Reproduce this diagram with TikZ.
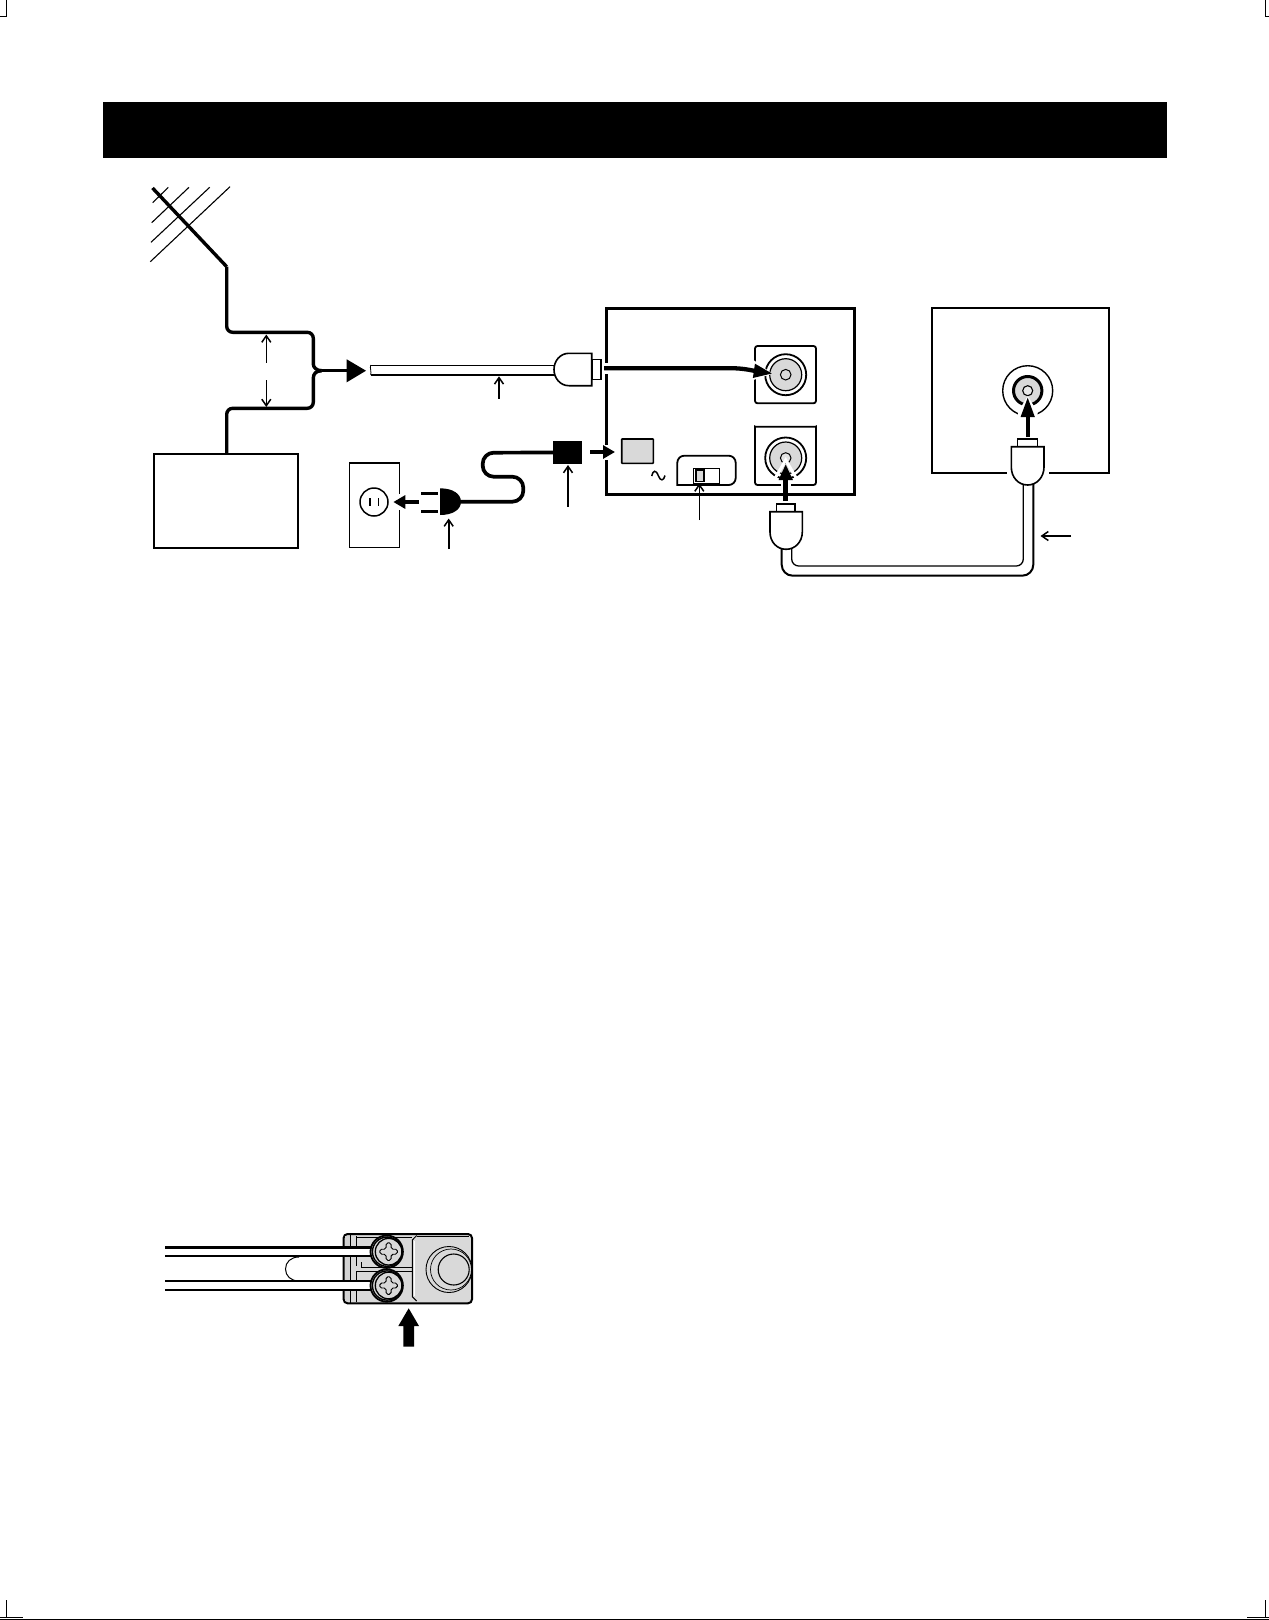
\documentclass[tikz,border=0pt]{standalone}
\usetikzlibrary{arrows.meta}
\definecolor{lightfill}{gray}{0.85}
\tikzset{
  wire/.style={line width=3.4pt,line join=round},
  thinarrow/.style={line width=1.6pt,-{Straight Barb[length=6.5pt,width=9pt,line width=1.5pt]}},
  thickarrow/.style={line width=4pt,-{Triangle[length=12pt,width=13pt]}},
  plugbody/.style={draw,line width=1.6pt,fill=white},
  boxnode/.style={draw,rectangle,anchor=north west,inner sep=0pt,outer sep=0pt,fill=white},
  socketplate/.style={draw,line width=1.8pt,rounded corners=2.5pt},
}
\begin{document}
\begin{tikzpicture}[x=1pt,y=-1pt]
\useasboundingbox (0,0) rectangle (1269,1620);
\fill[white] (0,0) rectangle (1269,1620);
% crop marks
\draw[line width=1pt] (0,16) -- (6.5,16) -- (6.5,0);
\draw[line width=1pt] (1269,16) -- (1265,16) -- (1265,0);
\draw[line width=1pt] (6.5,1600) -- (6.5,1617) -- (0,1617);
\draw[line width=1pt] (6.5,1617) -- (23,1617);
\draw[line width=1pt] (1265,1600) -- (1265,1617) -- (1269,1617);
\draw[line width=1pt] (1265,1617) -- (1247,1617);
\draw[line width=1.2pt] (0,1619.2) -- (1269,1619.2);
% title bar
\node (bar) [rectangle,fill=black,anchor=north west,inner sep=0pt,outer sep=0pt,minimum width=1064pt,minimum height=56pt] at (103,102) {};
% antenna
\draw[line width=1.1pt] (168.3,187.3) -- (152.7,202.7);
\draw[line width=1.1pt] (189,187.3) -- (151.7,222.7);
\draw[line width=1.1pt] (209.7,187.3) -- (151,242.3);
\draw[line width=1.1pt] (230,186.7) -- (150.3,261.7);
\node (tv) [boxnode,line width=1.9pt,minimum width=144.6pt,minimum height=94.6pt] at (153.7,453.7) {};
\coordinate (join) at (321.7,370.7);
\draw[wire] (152.5,188) -- (226.7,266.7);
\draw[wire,rounded corners=6pt] (226.7,266.7) -- (226.7,332.3) -- (313.3,332.3) -- (313.3,358) .. controls (313.3,367) and (316,370.7) .. (join);
\draw[wire,rounded corners=6pt] (226.7,453.7) -- (226.7,408.3) -- (313.3,408.3) -- (313.3,384) .. controls (313.3,374) and (316,370.7) .. (join);
\coordinate (headbase) at (348,370.7);
\draw[wire] (join) -- (headbase);
\fill (346.7,359.3) -- (366,370.7) -- (346.7,382.3) -- cycle;
\coordinate (u1) at (266.3,362.7); \coordinate (u2) at (266.3,334.5);
\coordinate (d1) at (266.3,380); \coordinate (d2) at (266.3,407);
\draw[thinarrow] (u1) -- (u2);
\draw[thinarrow] (d1) -- (d2);
% cable to main plug
\fill[white] (370.7,365.3) rectangle (556,374.7);
\draw[line width=1.2pt] (370.7,365.3) -- (556,365.3);
\draw[line width=2pt] (370.7,374.7) -- (556,374.7);
\draw[line width=.8pt] (370.7,365) .. controls (368.5,367) and (372,368) .. (370.7,370) .. controls (369.5,372) and (372.5,373) .. (370.7,375);
\node (nub) [boxnode,line width=1.6pt,minimum width=8.7pt,minimum height=20pt] at (592,359.3) {};
\draw[plugbody] (591.7,353.3) -- (569,353.3) .. controls (560,353.3) and (554,361) .. (554,369.5) .. controls (554,378) and (560,385.7) .. (569,385.7) -- (591.7,385.7) -- cycle;
\coordinate (c1) at (499,398.7); \coordinate (c2) at (499,376.3);
\draw[thinarrow] (c1) -- (c2);
% main unit
\node (unit) [boxnode,fill=none,line width=3pt,minimum width=248pt,minimum height=186pt] at (606,308.3) {};
\fill[white] (603,363) rectangle (609,374);
\fill[white] (603,445) rectangle (609,460);
% upper socket
\draw[socketplate] (755,346) rectangle (816,403.3);
\coordinate (sa) at (785.7,374.7);
\draw[line width=1.8pt,fill=white] (sa) circle (20.5pt);
\draw[line width=1.2pt,fill=lightfill] (sa) circle (16pt);
\draw[line width=1pt,fill=lightfill] (sa) circle (5.3pt);
\coordinate (p0) at (604,368.3);
\draw[white,line width=7pt,-{Triangle[length=23pt,width=21pt]}] (742,368.8) .. controls (748,369.5) and (755,371) .. (773,373.8);
\draw[line width=4.3pt,-{Triangle[length=19pt,width=13pt]}] (p0) -- (735,368.3) .. controls (745,368.6) and (755,371) .. (772.7,373.6);
% lower socket
\draw[socketplate] (755,485) -- (755,429) .. controls (755,427) and (756,426.7) .. (758,426.7) -- (813,426.7) .. controls (815,426.7) and (816,427) .. (816,429) -- (816,485) -- cycle;
\coordinate (sb) at (785.7,458);
\draw[line width=1.8pt,fill=white] (sb) circle (20.5pt);
\draw[line width=1.2pt,fill=lightfill] (sb) circle (16pt);
\draw[line width=1pt,fill=white!30!lightfill] (sb) circle (5.3pt);
\coordinate (sbfrom) at (785.7,501);
\draw[white,line width=3pt] (773,482) -- (785.7,460) -- (798.5,482) -- cycle;
\fill[white] (781,482) rectangle (790.5,490);
\draw[line width=5pt,-{Triangle[length=16pt,width=13pt]}] (sbfrom) -- (785.7,464);
% ac inlet
\node (inlet) [boxnode,fill=lightfill,line width=1.6pt,minimum width=31.6pt,minimum height=24.3pt,rounded corners=.5pt] at (621.7,439) {};
\draw[line width=1.5pt] (651.7,476) .. controls (653,470) and (656,469.5) .. (658.3,475.7) .. controls (660.5,481.5) and (663.7,481) .. (665,475.5);
\coordinate (pw1) at (590,452); \coordinate (pw2) at (615,452);
\draw[thickarrow] (pw1) -- (pw2);
% switch
\draw[line width=1.8pt,rounded corners=7pt,fill=white] (677.3,485) -- (677.3,455.7) -- (735.7,455.7) -- (735.7,485) [sharp corners] -- cycle;
\node (sw) [boxnode,line width=1pt,minimum width=26pt,minimum height=15pt] at (693.3,468.3) {};
\node (swk) [boxnode,fill=lightfill,line width=1.1pt,minimum width=8pt,minimum height=11.7pt] at (696,470) {};
\coordinate (sw1) at (699.3,520); \coordinate (sw2) at (699.3,483.5);
\draw[thinarrow] (sw1) -- (sw2);
% power cord
\node (adapter) [rectangle,fill=black,anchor=north west,inner sep=0pt,outer sep=0pt,minimum width=28.7pt,minimum height=23pt] at (553.3,441) {};
\draw[wire,line width=3.7pt,rounded corners=11pt] (461,501.7) -- (523.3,501.7) -- (523.3,476.7) -- (482.7,476.7) -- (482.7,452.7) -- (adapter.west);
\fill (440,488.3) .. controls (453,488.3) and (461,494) .. (461,501.7) .. controls (461,509.5) and (453,515) .. (440,515) -- cycle;
\fill (421,491.8) rectangle (437.7,494.8);
\fill (421,509.5) rectangle (437.7,512.5);
\coordinate (ad1) at (568,506.7); \coordinate (ad2) at (568,465);
\draw[thinarrow] (ad1) -- (ad2);
\coordinate (pl1) at (448.7,549); \coordinate (pl2) at (448.7,518.5);
\draw[thinarrow] (pl1) -- (pl2);
% outlet
\node (outlet) [boxnode,line width=1.6pt,minimum width=50pt,minimum height=84.6pt] at (349.3,462.7) {};
\fill[white] (397,494) rectangle (402,510);
\node (hole) [circle,draw,line width=1.5pt,minimum size=28pt,inner sep=0pt] at (374,502) {};
\draw[line width=1.2pt] (370,498.3) -- (370,506);
\draw[line width=1.2pt] (378.3,498.3) -- (378.3,506);
\coordinate (ou1) at (419,502); \coordinate (ou2) at (393.3,502);
\draw[thickarrow] (ou1) -- (ou2);
% coax link
\draw[line width=1.3pt,rounded corners=7pt] (791.7,545) -- (791.7,566) -- (1023.3,566) -- (1023.3,480);
\draw[line width=2pt,rounded corners=11pt] (781.7,545) -- (781.7,575.7) -- (1033.3,575.7) -- (1033.3,480);
\node (nb) [boxnode,line width=1.5pt,minimum width=18.3pt,minimum height=7.7pt] at (776.7,504) {};
\draw[plugbody] (770,511.7) -- (802.3,511.7) -- (802.3,532) .. controls (802.3,542) and (795,549.3) .. (786.1,549.3) .. controls (777,549.3) and (770,542) .. (770,532) -- cycle;
% right unit
\node (tvr) [boxnode,line width=1.9pt,minimum width=177.3pt,minimum height=165pt] at (931.7,308.3) {};
\fill[white] (1006.7,470) rectangle (1048.7,476);
\coordinate (sc) at (1027.7,390.7);
\draw[line width=1.4pt] (sc) circle (25pt);
\draw[line width=3pt,fill=lightfill] (sc) circle (14.2pt);
\draw[line width=1.1pt,fill=white!40!lightfill] (sc) circle (5pt);
\fill[white] (1018,412) -- (1027.7,396) -- (1037.5,412) -- (1037.5,425) -- (1018,425) -- cycle;
\coordinate (r1) at (1027.7,437); \coordinate (r2) at (1027.7,397);
\draw[line width=4pt,-{Triangle[length=20pt,width=13pt]}] (r1) -- (r2);
\node (nr) [boxnode,line width=1.5pt,minimum width=20pt,minimum height=7.7pt] at (1017.7,439) {};
\draw[plugbody] (1011.3,446.7) -- (1044,446.7) -- (1044,467) .. controls (1044,477) and (1037,485) .. (1027.7,485) .. controls (1018,485) and (1011.3,477) .. (1011.3,467) -- cycle;
\coordinate (k1) at (1071,536); \coordinate (k2) at (1040.5,536);
\draw[thinarrow] (k1) -- (k2);
% lower detail: terminal plate
\draw[line width=2pt,rounded corners=4pt,fill=lightfill] (343.6,1234) rectangle (472,1303.3);
\fill[gray!35] (345,1236) rectangle (350,1301);
\draw[line width=1pt] (350,1235) -- (350,1302.5);
\draw[line width=1pt] (356.7,1236) -- (356.7,1266);
\draw[line width=1pt] (356.7,1271) -- (356.7,1302);
\draw[line width=1pt] (356.7,1237) -- (412,1237);
\draw[line width=1pt] (361,1267.7) -- (412,1267.7);
\draw[line width=1pt] (356.7,1271) -- (412,1271);
\draw[line width=1pt] (361,1262) -- (361,1267.7);
\draw[line width=1pt] (416.7,1235.5) -- (412.3,1240) -- (412.3,1296.7) -- (416.7,1301);
\draw[white,line width=1.2pt] (414.4,1241) -- (414.4,1296);
\draw[line width=.8pt] (416.7,1236) -- (469,1236);
% knob
\coordinate (kn) at (449,1269.5);
\draw[line width=.9pt] (kn) circle (23pt);
\draw[line width=.7pt] (451,1269.5) circle (20.5pt);
\draw[line width=1.1pt] (453.7,1269.5) circle (15.5pt);
% wires
\fill[white] (165,1247.3) rectangle (372,1255.7);
\fill[white] (165,1281) rectangle (372,1289.7);
\draw[line width=3pt] (165,1247.3) -- (372,1247.3);
\draw[line width=2pt] (165,1255.7) -- (372,1255.7);
\draw[line width=2pt] (165,1281) -- (372,1281);
\draw[line width=2pt] (165,1289.7) -- (372,1289.7);
\draw[line width=1pt] (299,1257) .. controls (291,1257) and (285.5,1262) .. (285.5,1269) .. controls (285.5,1276) and (291,1281) .. (299,1281);
% screws
\foreach \yy in {1251.7,1285.5} {
  \draw[line width=1.8pt,fill=lightfill] (386.7,\yy) circle (16.2pt);
  \draw[line width=1.4pt] (387,\yy) circle (14.6pt);
  \draw[line width=1.3pt,fill=lightfill] (388.6,\yy) circle (13.3pt);
  \draw[line width=.9pt,rounded corners=1.8pt]
    (386.1,\yy-8.8) -- (391.1,\yy-8.8) -- (391.1,\yy-2.5) -- (397.4,\yy-2.5) -- (397.4,\yy+2.5) -- (391.1,\yy+2.5)
    -- (391.1,\yy+8.8) -- (386.1,\yy+8.8) -- (386.1,\yy+2.5) -- (379.8,\yy+2.5) -- (379.8,\yy-2.5) -- (386.1,\yy-2.5) -- cycle;
}
% big arrow
\fill (403.3,1346.7) -- (403.3,1326) -- (398.3,1326) -- (408.7,1308.3) -- (419,1326) -- (414,1326) -- (414,1346.7) -- cycle;
\end{tikzpicture}
\end{document}
